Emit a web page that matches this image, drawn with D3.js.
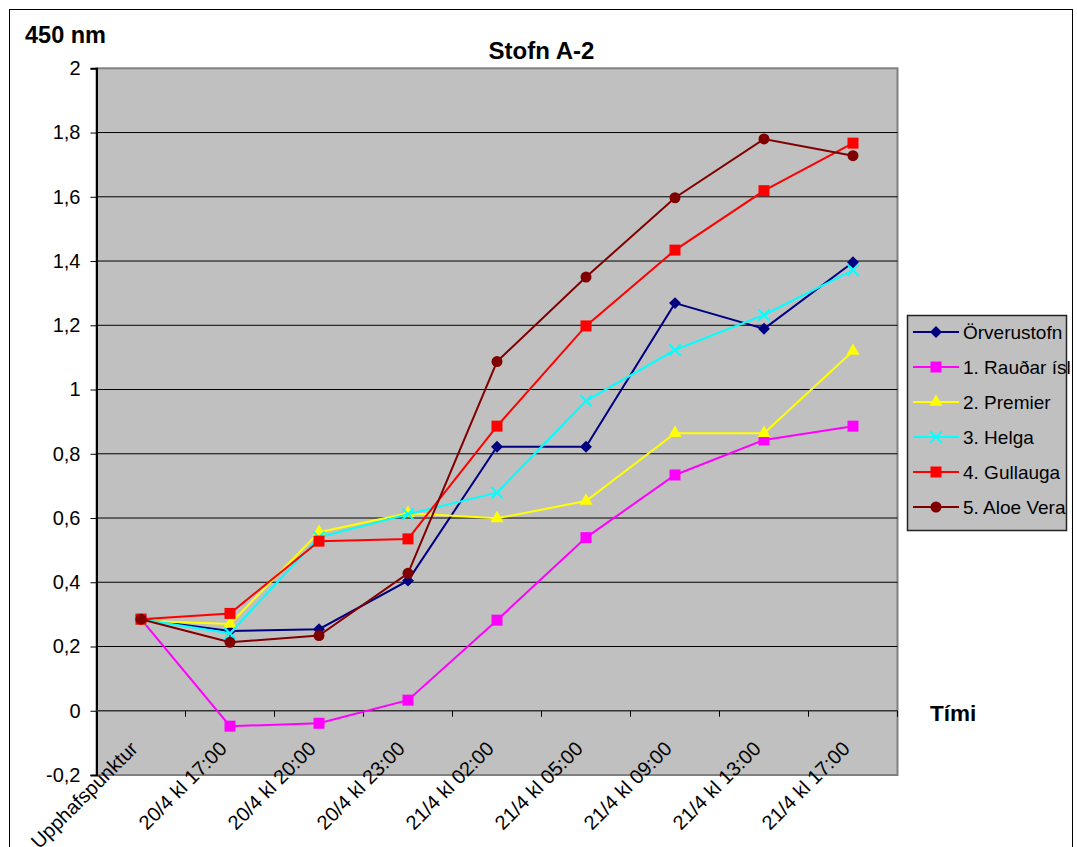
<!DOCTYPE html>
<html>
<head>
<meta charset="utf-8">
<script src="https://cdn.jsdelivr.net/npm/d3@7"></script>
<style>
    body { margin: 0; background: #fff; }
    text { font-family: "Liberation Sans", Arial, sans-serif; }
</style>
</head>
<body>
<svg id="chart" width="1077" height="847"></svg>
<script>
/*jshint esversion: 6 */

///////////////////////////////
/// Data
///////////////////////////////

let categories = ["Upphafspunktur", "20/4 kl 17:00", "20/4 kl 20:00", "20/4 kl 23:00",
    "21/4 kl 02:00", "21/4 kl 05:00", "21/4 kl 09:00", "21/4 kl 13:00", "21/4 kl 17:00"];

let seriesNames = ["Örverustofn", "1. Rauðar ísl", "2. Premier", "3. Helga", "4. Gullauga", "5. Aloe Vera"];

let orverustofn = [0.285, 0.248, 0.254, 0.405, 0.822, 0.822, 1.269, 1.189, 1.396];
let raudar      = [0.285, -0.048, -0.039, 0.033, 0.282, 0.539, 0.734, 0.843, 0.886];
let premier     = [0.280, 0.270, 0.556, 0.615, 0.599, 0.653, 0.864, 0.864, 1.120];
let helga       = [0.285, 0.241, 0.540, 0.612, 0.679, 0.965, 1.123, 1.232, 1.372];
let gullauga    = [0.285, 0.303, 0.528, 0.535, 0.886, 1.198, 1.434, 1.619, 1.767];
let aloeVera    = [0.285, 0.213, 0.234, 0.428, 1.087, 1.350, 1.597, 1.780, 1.728];

let yTicks = [-0.2, 0, 0.2, 0.4, 0.6, 0.8, 1, 1.2, 1.4, 1.6, 1.8, 2];

///////////////////////////////
/// Layout and styles
///////////////////////////////

let plot = { left: 96.5, right: 897.5, top: 68.3, bottom: 775 };
let colours = ["#000080", "#ff00ff", "#ffff00", "#00ffff", "#ff0000", "#800000"];
let markers = ["diamond", "square", "triangle", "cross", "square", "circle"];

let allSeries = [orverustofn, raudar, premier, helga, gullauga, aloeVera].map(function (values, i) {
    return { name: seriesNames[i], values: values, colour: colours[i], marker: markers[i] };
});

let svg = d3.select("#chart");

let x = d3.scaleBand()
    .domain(categories)
    .range([plot.left, plot.right])
    .padding(0);

let y = d3.scaleLinear()
    .domain([-0.2, 2])
    .range([plot.bottom, plot.top]);

let cx = function (i) {
    return x(categories[i]) + x.bandwidth() / 2;
};

let fmt = function (v) {
    return String(Math.round(v * 10) / 10).replace(".", ",");
};

// Outer chart border
svg.append("rect")
    .attr("x", 9.5).attr("y", 9.5)
    .attr("width", 1063).attr("height", 900)
    .attr("fill", "#fff")
    .attr("stroke", "#000")
    .attr("stroke-width", 1);

// Plot area
svg.append("rect")
    .attr("x", plot.left).attr("y", plot.top)
    .attr("width", plot.right - plot.left)
    .attr("height", plot.bottom - plot.top)
    .attr("fill", "#c0c0c0")
    .attr("stroke", "#808080")
    .attr("stroke-width", 2);

// Gridlines
svg.append("g")
    .selectAll("line")
    .data(yTicks.filter(function (t) { return t > 0 && t < 2; }))
    .enter()
    .append("line")
    .attr("x1", plot.left).attr("x2", plot.right)
    .attr("y1", function (d) { return y(d); })
    .attr("y2", function (d) { return y(d); })
    .attr("stroke", "#000")
    .attr("stroke-width", 1);

// Value axis
let yAxis = svg.append("g")
    .attr("transform", "translate(" + plot.left + ",0)")
    .call(d3.axisLeft(y).tickValues(yTicks).tickSize(6).tickPadding(10).tickFormat(fmt));
yAxis.select(".domain").attr("stroke", "#000").attr("stroke-width", 2);
yAxis.selectAll(".tick line").attr("stroke", "#000");
yAxis.selectAll(".tick text")
    .attr("font-size", 20)
    .attr("fill", "#000")
    .attr("font-family", "Liberation Sans, Arial, sans-serif");

// Category axis, crossing at zero
let xAxis = svg.append("g")
    .attr("transform", "translate(0," + y(0) + ")");
xAxis.append("line")
    .attr("x1", plot.left).attr("x2", plot.right)
    .attr("stroke", "#333").attr("stroke-width", 1.5);
xAxis.selectAll("line.tick")
    .data(categories.slice(1).concat(["end"]))
    .enter()
    .append("line")
    .attr("class", "tick")
    .attr("x1", function (d, i) { return plot.left + (i + 1) * x.bandwidth(); })
    .attr("x2", function (d, i) { return plot.left + (i + 1) * x.bandwidth(); })
    .attr("y1", 0).attr("y2", 6)
    .attr("stroke", "#000");

svg.append("g")
    .selectAll("text")
    .data(categories)
    .enter()
    .append("text")
    .attr("transform", function (d, i) {
        return "translate(" + (cx(i) - 2) + ",750) rotate(-45)";
    })
    .attr("text-anchor", "end")
    .attr("font-size", 20)
    .text(function (d) { return d; });

///////////////////////////////
/// Series
///////////////////////////////

let line = d3.line()
    .x(function (d, i) { return cx(i); })
    .y(function (d) { return y(d); });

let drawMarker = function (g, type, colour, size) {
    if (type === "circle") {
        g.append("circle").attr("r", size * 0.5).attr("fill", colour);
    } else if (type === "square") {
        g.append("rect")
            .attr("x", -size / 2).attr("y", -size / 2)
            .attr("width", size).attr("height", size)
            .attr("fill", colour);
    } else if (type === "diamond") {
        g.append("path")
            .attr("d", d3.symbol().type(d3.symbolDiamond2).size(size * size * 0.75))
            .attr("fill", colour);
    } else if (type === "triangle") {
        g.append("path")
            .attr("d", d3.symbol().type(d3.symbolTriangle).size(size * size * 0.62))
            .attr("fill", colour);
    } else if (type === "cross") {
        g.append("path")
            .attr("d", d3.symbol().type(d3.symbolX).size(size * size * 0.7))
            .attr("fill", "none")
            .attr("stroke", colour)
            .attr("stroke-width", 2);
    }
};

allSeries.forEach(function (s) {
    let g = svg.append("g");
    g.append("path")
        .datum(s.values)
        .attr("d", line)
        .attr("fill", "none")
        .attr("stroke", s.colour)
        .attr("stroke-width", 2);
    g.selectAll("g.pt")
        .data(s.values)
        .enter()
        .append("g")
        .attr("class", "pt")
        .attr("transform", function (d, i) { return "translate(" + cx(i) + "," + y(d) + ")"; })
        .each(function () { drawMarker(d3.select(this), s.marker, s.colour, 11); });
});

///////////////////////////////
/// Titles and legend
///////////////////////////////

svg.append("text")
    .attr("x", 541.5).attr("y", 58.5)
    .attr("text-anchor", "middle")
    .attr("font-size", 24).attr("font-weight", "bold")
    .text("Stofn A-2");

svg.append("text")
    .attr("x", 25).attr("y", 43)
    .attr("font-size", 23.5).attr("font-weight", "bold")
    .text("450 nm");

svg.append("text")
    .attr("x", 930).attr("y", 721)
    .attr("font-size", 22.5).attr("font-weight", "bold")
    .text("Tími");

let legend = svg.append("g");
legend.append("rect")
    .attr("x", 907.5).attr("y", 315.5)
    .attr("width", 159).attr("height", 215)
    .attr("fill", "#c0c0c0")
    .attr("stroke", "#222")
    .attr("stroke-width", 1.5);

let items = legend.selectAll("g.item")
    .data(allSeries)
    .enter()
    .append("g")
    .attr("class", "item")
    .attr("transform", function (d, i) { return "translate(0," + (332 + i * 35) + ")"; });

items.append("line")
    .attr("x1", 913).attr("x2", 959)
    .attr("stroke", function (d) { return d.colour; })
    .attr("stroke-width", 2);
items.append("g")
    .attr("transform", "translate(936,0)")
    .each(function (d) { drawMarker(d3.select(this), d.marker, d.colour, 11); });
items.append("text")
    .attr("x", 963).attr("y", 7)
    .attr("font-size", 19)
    .text(function (d) { return d.name; });
</script>
</body>
</html>
